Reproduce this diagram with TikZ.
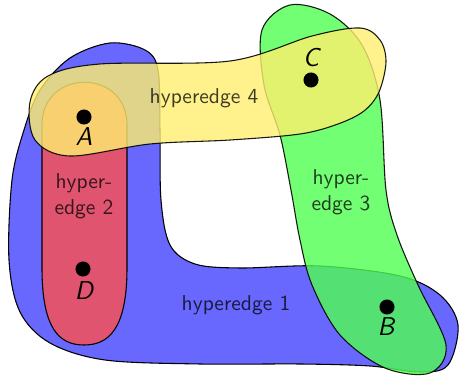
\documentclass[tikz,border=0pt]{standalone}
\renewcommand{\familydefault}{\sfdefault}
\definecolor{hblue}{RGB}{104,104,255}
\definecolor{hred}{RGB}{224,84,112}
\definecolor{hgreen}{RGB}{80,255,80}
\definecolor{hyellow}{RGB}{255,239,111}
\tikzset{
  hedge/.style={draw=black, line width=0.5pt},
  vdot/.style={circle, fill=black, inner sep=0pt, minimum size=7pt},
  vlab/.style={font=\large\itshape, inner sep=0pt},
  elab/.style={align=center, text opacity=0.75, font=\normalsize, inner sep=0pt}
}
\begin{document}
\begin{tikzpicture}[x=0.465pt, y=-0.465pt]
\useasboundingbox (0,0) rectangle (459,378);
% hyperedge 1 (blue)
\draw[hedge, fill=hblue] plot[smooth cycle, tension=0.55] coordinates {
 (70,58) (110,43) (145,50) (158,70) (160,130) (161,200) (170,245) (195,264)
 (240,268) (320,266) (400,276) (440,295) (458,325) (448,365) (420,372)
 (370,366) (300,364) (200,364) (105,360) (50,343) (20,312) (9,260)
 (12,180) (24,130) (40,90)};
% hyperedge 2 (red)
\draw[hedge, fill=hred] (42,125) .. controls (42,68) and (127,68) .. (127,125)
  -- (127,268) .. controls (127,330) and (108,345) .. (84,345)
  .. controls (60,345) and (42,330) .. (42,268) -- cycle;
% hyperedge 3 (green)
\draw[hedge, fill=hgreen, fill opacity=0.8, draw opacity=0.9] plot[smooth cycle, tension=0.55] coordinates {
 (262,30) (290,5) (330,14) (362,45) (380,100) (386,190) (397,235) (418,285)
 (446,345) (430,373) (385,368) (340,335) (312,285) (300,240) (291,190)
 (280,135) (264,85)};
% hyperedge 4 (yellow)
\draw[hedge, fill=hyellow, fill opacity=0.8, draw opacity=0.9] plot[smooth cycle, tension=0.55] coordinates {
 (30,102) (48,76) (100,64) (230,61) (312,36) (360,28) (380,40) (386,62)
 (379,92) (364,111) (338,124) (300,134) (230,140) (150,144) (70,156) (35,140)};
% labels of hyperedges
\node[elab] (e4) at (204,98) {hyperedge 4};
\node[elab] (e2) at (84,196) {hyper-\\edge 2};
\node[elab] (e3) at (341,192) {hyper-\\edge 3};
\node[elab] (e1) at (236,305) {hyperedge 1};
% vertices
\node[vdot] (A) at (84,117) {};
\node[vlab] (lA) at (84,137) {A};
\node[vdot] (C) at (311,80) {};
\node[vlab] (lC) at (311,58) {C};
\node[vdot] (D) at (83,269) {};
\node[vlab] (lD) at (84,291) {D};
\node[vdot] (B) at (387,307) {};
\node[vlab] (lB) at (386,327) {B};
\end{tikzpicture}
\end{document}
